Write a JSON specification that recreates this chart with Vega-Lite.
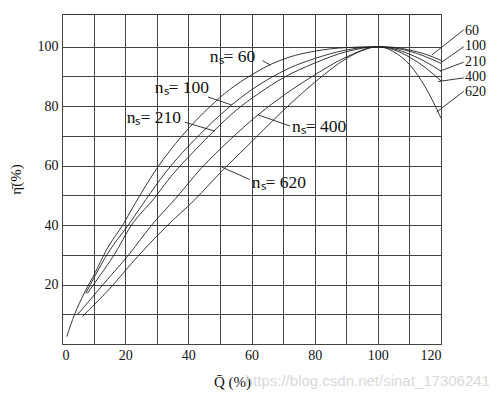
{
  "$schema": "https://vega.github.io/schema/vega-lite/v6.json",
  "autosize": {"type": "none"},
  "padding": {"left": 62, "top": 14, "right": 58, "bottom": 54},
  "width": 379,
  "height": 330,
  "config": {
    "view": {"stroke": "#333", "strokeWidth": 1},
    "font": "Liberation Serif",
    "axis": {
      "gridColor": "#444", "gridOpacity": 1, "gridWidth": 1,
      "ticks": false, "domain": false,
      "labelFont": "Liberation Serif", "labelFontSize": 14, "labelColor": "#111",
      "titleFont": "Liberation Serif", "titleFontSize": 15, "titleFontWeight": "normal", "titleColor": "#111"
    }
  },
  "encoding": {
    "x": {"field": "Q", "type": "quantitative", "scale": {"domain": [0, 120], "nice": false},
      "axis": {"values": [0,10,20,30,40,50,60,70,80,90,100,110,120], "labelExpr": "datum.value % 20 === 0 ? datum.label : ''", "labelPadding": 4, "title": "Q̄ (%)", "titlePadding": 12, "titleX": 170}},
    "y": {"field": "eta", "type": "quantitative", "scale": {"domain": [0, 111], "nice": false},
      "axis": {"values": [0,10,20,30,40,50,60,70,80,90,100], "labelExpr": "datum.value % 20 === 0 && datum.value > 0 ? datum.label : ''", "labelPadding": 4, "title": "η̄(%)", "titlePadding": 14}}
  },
  "datasets": {
    "curves": [
      {"ns": "60", "Q": 1.5, "eta": 2.5}, {"ns": "60", "Q": 4, "eta": 10}, {"ns": "60", "Q": 7, "eta": 17}, {"ns": "60", "Q": 10.5, "eta": 24}, {"ns": "60", "Q": 14, "eta": 31.5}, {"ns": "60", "Q": 19.5, "eta": 40.5}, {"ns": "60", "Q": 23, "eta": 47}, {"ns": "60", "Q": 30, "eta": 59}, {"ns": "60", "Q": 38, "eta": 70}, {"ns": "60", "Q": 47, "eta": 80}, {"ns": "60", "Q": 53, "eta": 85.5}, {"ns": "60", "Q": 60, "eta": 90.5}, {"ns": "60", "Q": 66, "eta": 94}, {"ns": "60", "Q": 72, "eta": 96.5}, {"ns": "60", "Q": 80, "eta": 98.5}, {"ns": "60", "Q": 90, "eta": 99.7}, {"ns": "60", "Q": 100, "eta": 100}, {"ns": "60", "Q": 105, "eta": 99.8}, {"ns": "60", "Q": 110, "eta": 98.9}, {"ns": "60", "Q": 115, "eta": 97.5}, {"ns": "60", "Q": 120, "eta": 95.4},
      {"ns": "100", "Q": 7.5, "eta": 17}, {"ns": "100", "Q": 10.5, "eta": 23}, {"ns": "100", "Q": 14.5, "eta": 30.5}, {"ns": "100", "Q": 21, "eta": 40}, {"ns": "100", "Q": 26.5, "eta": 48.5}, {"ns": "100", "Q": 33, "eta": 58}, {"ns": "100", "Q": 40, "eta": 66.5}, {"ns": "100", "Q": 47, "eta": 74}, {"ns": "100", "Q": 53.7, "eta": 80.4}, {"ns": "100", "Q": 60, "eta": 85.5}, {"ns": "100", "Q": 66, "eta": 89.5}, {"ns": "100", "Q": 72, "eta": 92.8}, {"ns": "100", "Q": 80, "eta": 96}, {"ns": "100", "Q": 90, "eta": 98.9}, {"ns": "100", "Q": 100, "eta": 100}, {"ns": "100", "Q": 105, "eta": 99.6}, {"ns": "100", "Q": 110, "eta": 98.5}, {"ns": "100", "Q": 115, "eta": 96.7}, {"ns": "100", "Q": 120, "eta": 94.4},
      {"ns": "210", "Q": 8, "eta": 17}, {"ns": "210", "Q": 12, "eta": 23}, {"ns": "210", "Q": 16.5, "eta": 30}, {"ns": "210", "Q": 22, "eta": 40}, {"ns": "210", "Q": 28.8, "eta": 48.5}, {"ns": "210", "Q": 35, "eta": 57}, {"ns": "210", "Q": 41.5, "eta": 64.5}, {"ns": "210", "Q": 48.4, "eta": 72}, {"ns": "210", "Q": 55, "eta": 78.5}, {"ns": "210", "Q": 62.6, "eta": 84.5}, {"ns": "210", "Q": 70, "eta": 89.5}, {"ns": "210", "Q": 80, "eta": 94.5}, {"ns": "210", "Q": 90, "eta": 98.3}, {"ns": "210", "Q": 100, "eta": 100}, {"ns": "210", "Q": 105, "eta": 99.3}, {"ns": "210", "Q": 110, "eta": 97.5}, {"ns": "210", "Q": 115, "eta": 95}, {"ns": "210", "Q": 120, "eta": 91.8},
      {"ns": "400", "Q": 5, "eta": 10}, {"ns": "400", "Q": 9, "eta": 15}, {"ns": "400", "Q": 13, "eta": 20}, {"ns": "400", "Q": 21.5, "eta": 30.5}, {"ns": "400", "Q": 28, "eta": 39.5}, {"ns": "400", "Q": 36, "eta": 49}, {"ns": "400", "Q": 44, "eta": 59}, {"ns": "400", "Q": 53, "eta": 68.5}, {"ns": "400", "Q": 62, "eta": 77}, {"ns": "400", "Q": 70, "eta": 83.5}, {"ns": "400", "Q": 80, "eta": 90.5}, {"ns": "400", "Q": 90, "eta": 96.5}, {"ns": "400", "Q": 100, "eta": 100}, {"ns": "400", "Q": 105, "eta": 99}, {"ns": "400", "Q": 110, "eta": 96.5}, {"ns": "400", "Q": 115, "eta": 93}, {"ns": "400", "Q": 120, "eta": 88.5},
      {"ns": "620", "Q": 6.5, "eta": 9.3}, {"ns": "620", "Q": 15, "eta": 18.5}, {"ns": "620", "Q": 24, "eta": 29.5}, {"ns": "620", "Q": 33, "eta": 39.5}, {"ns": "620", "Q": 42, "eta": 48.5}, {"ns": "620", "Q": 51, "eta": 58.6}, {"ns": "620", "Q": 60, "eta": 68}, {"ns": "620", "Q": 70, "eta": 78.5}, {"ns": "620", "Q": 80, "eta": 88}, {"ns": "620", "Q": 90, "eta": 96}, {"ns": "620", "Q": 95, "eta": 98.7}, {"ns": "620", "Q": 100, "eta": 100}, {"ns": "620", "Q": 105, "eta": 98.3}, {"ns": "620", "Q": 110, "eta": 94}, {"ns": "620", "Q": 115, "eta": 86.5}, {"ns": "620", "Q": 120, "eta": 76}
    ],
    "pointers": [
      {"Q": 63.5, "eta": 95.3, "Q2": 66, "eta2": 93.8},
      {"Q": 46.2, "eta": 83.1, "Q2": 53.7, "eta2": 80.4},
      {"Q": 38.9, "eta": 74.6, "Q2": 48.4, "eta2": 71.6},
      {"Q": 62, "eta": 77.1, "Q2": 72.2, "eta2": 73.3},
      {"Q": 50.6, "eta": 59.5, "Q2": 59.5, "eta2": 55.3},
      {"Q": 127.2, "eta": 105.7, "Q2": 117.1, "eta2": 97.2},
      {"Q": 127.2, "eta": 100, "Q2": 120.2, "eta2": 94.8},
      {"Q": 127.2, "eta": 94.8, "Q2": 119.7, "eta2": 91.8},
      {"Q": 127.2, "eta": 89.5, "Q2": 119.1, "eta2": 88.3},
      {"Q": 127.2, "eta": 85, "Q2": 118.6, "eta2": 78}
    ],
    "labels": [
      {"Q": 46.8, "eta": 96.4, "label": "nₛ= 60"},
      {"Q": 29.4, "eta": 86, "label": "nₛ= 100"},
      {"Q": 20.5, "eta": 76, "label": "nₛ= 210"},
      {"Q": 72.8, "eta": 72.9, "label": "nₛ= 400"},
      {"Q": 60.1, "eta": 54.1, "label": "nₛ= 620"}
    ],
    "sidelabels": [
      {"Q": 127.6, "eta": 105.2, "label": "60"},
      {"Q": 127.6, "eta": 100.2, "label": "100"},
      {"Q": 127.6, "eta": 94.8, "label": "210"},
      {"Q": 127.6, "eta": 89.8, "label": "400"},
      {"Q": 127.6, "eta": 84.8, "label": "620"}
    ],
    "watermark": [
      {"Q": 135.5, "eta": -12.3, "label": "https://blog.csdn.net/sinat_17306241"}
    ]
  },
  "layer": [
    {
      "data": {"name": "curves"},
      "mark": {"type": "line", "interpolate": "monotone", "color": "#222", "strokeWidth": 0.9},
      "encoding": {
        "detail": {"field": "ns"}
      }
    },
    {
      "data": {"name": "watermark"},
      "mark": {"type": "text", "align": "right", "baseline": "middle", "font": "Liberation Sans", "fontSize": 15, "color": "#d9d9d9"},
      "encoding": {
        "text": {"field": "label"}
      }
    },
    {
      "data": {"name": "pointers"},
      "mark": {"type": "rule", "color": "#222", "strokeWidth": 0.9},
      "encoding": {
        "x2": {"field": "Q2"},
        "y2": {"field": "eta2"}
      }
    },
    {
      "data": {"name": "labels"},
      "mark": {"type": "text", "align": "left", "baseline": "middle", "font": "Liberation Serif", "fontSize": 17.5, "color": "#111"},
      "encoding": {
        "text": {"field": "label"}
      }
    },
    {
      "data": {"name": "sidelabels"},
      "mark": {"type": "text", "align": "left", "baseline": "middle", "font": "Liberation Serif", "fontSize": 14, "color": "#111"},
      "encoding": {
        "text": {"field": "label"}
      }
    }
  ]
}
